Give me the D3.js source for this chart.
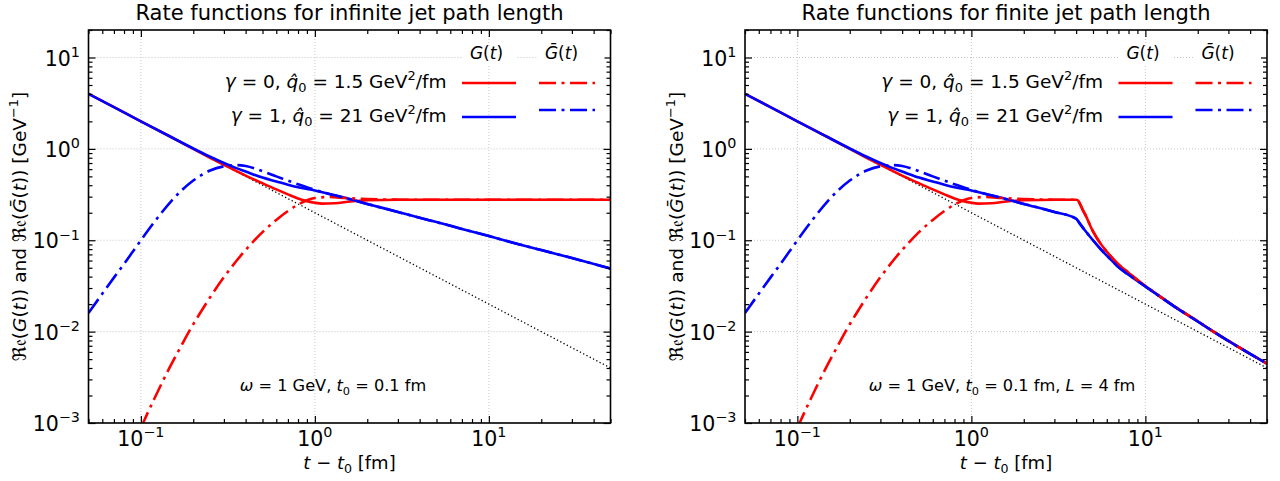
<!DOCTYPE html>
<html><head><meta charset="utf-8">
<script src="https://cdn.jsdelivr.net/npm/d3@7"></script>
<style>body{margin:0;background:#fff} text{font-family:"DejaVu Sans",sans-serif;fill:#000}</style>
</head><body><svg id="c" width="1280" height="481"></svg>
<script>
// ---------- data ----------
// reference power law (dotted)
const tRef = [0.05, 50];
const refVals = [4, 0.004];

// gamma = 0, G(t), infinite path
const tG0 = [0.05,0.07,0.1,0.15,0.2,0.25,0.3,0.4,0.5,0.6,0.7,0.8,0.9,1.0,1.1,1.3,1.6,2,3,4,5,10,20,50];
const G0inf = [4,2.86,2,1.34,1.0,0.80,0.67,0.51,0.42,0.36,0.318,0.287,0.268,0.257,0.252,0.254,0.266,0.274,0.277,0.277,0.277,0.277,0.277,0.277];
// gamma = 1, G(t), infinite path
const tG1 = [0.05,0.07,0.1,0.15,0.2,0.25,0.3,0.35,0.4,0.5,0.6,0.7,0.8,1.0,1.3,1.7,2,3,4,5,7,10,15,20,30,50];
const G1inf = [4,2.86,2,1.34,1.01,0.82,0.70,0.62,0.565,0.485,0.44,0.405,0.38,0.35,0.31,0.272,0.25,0.204,0.176,0.158,0.133,0.111,0.09,0.078,0.064,0.049];
// gamma = 0, Gbar(t), infinite path
const tGb0 = [0.1,0.103,0.12,0.15,0.17,0.19,0.22,0.25,0.3,0.35,0.4,0.5,0.6,0.7,0.8,0.9,1.0,1.2,1.5,2,3,4,5,10,20,50];
const Gb0inf = [0.00088,0.001,0.00188,0.00443,0.0069,0.0102,0.0162,0.0238,0.0394,0.0578,0.0783,0.1227,0.167,0.209,0.246,0.274,0.29,0.297,0.29,0.282,0.278,0.277,0.277,0.277,0.277,0.277];
// gamma = 1, Gbar(t), infinite path
const tGb1 = [0.05,0.06,0.07,0.08,0.1,0.12,0.15,0.2,0.25,0.3,0.35,0.4,0.5,0.6,0.7,0.8,0.9,1.0,1.3,1.7,2,3,4,5,7,10,15,20,30,50];
const Gb1inf = [0.016,0.026,0.039,0.055,0.1,0.16,0.27,0.45,0.58,0.645,0.665,0.65,0.57,0.5,0.45,0.41,0.38,0.356,0.31,0.272,0.25,0.204,0.176,0.158,0.133,0.111,0.09,0.078,0.064,0.049];

// finite path (L = 4 fm): curves after the jet leaves the medium
const tTail0 = [4.0,4.08,4.2,4.35,4.5,5,5.5,6,6.5,7,8,9,10,12,15,20,25,30,40,50];
const G0tail = [0.277,0.275,0.252,0.218,0.193,0.125,0.093,0.075,0.063,0.0545,0.0442,0.0368,0.0316,0.0247,0.0184,0.013,0.0098,0.0079,0.0057,0.00446];
const tTail1 = [4.0,4.2,4.5,5,5.5,6,6.5,7,8,9,10,12,15,20,25,30,40,50];
const G1tail = [0.172,0.152,0.128,0.1,0.081,0.068,0.0585,0.0508,0.042,0.0358,0.0312,0.0245,0.0183,0.0129,0.0098,0.0079,0.0057,0.00446];
const pathLength = 4;

// ticks
const xMajor = [0.1, 1, 10];
const xMajorExp = ["\u22121", "0", "1"];
const yMajor = [1e-3, 1e-2, 1e-1, 1, 10];
const yMajorExp = ["\u22123", "\u22122", "\u22121", "0", "1"];
const xDomain = [0.05, 50];
const yDomain = [1e-3, 20];

const titles = ["Rate functions for infinite jet path length", "Rate functions for finite jet path length"];

// ---------- helpers ----------
const zip = (xs, ys) => xs.map((v, i) => [v, ys[i]]);
function finite(xs, ys, txs, tys) {
  const head = zip(xs, ys).filter(d => d[0] < pathLength);
  return head.concat(zip(txs, tys));
}
function rich(sel, parts, size) {
  let cur = 0;
  parts.forEach(p => {
    const ts = sel.append("tspan").text(p.t);
    let want = 0;
    if (p.i) ts.attr("font-style", "italic");
    if (p.sup) { want = -0.42 * size; ts.attr("font-size", size * 0.7); }
    if (p.sub) { want = 0.22 * size; ts.attr("font-size", size * 0.7); }
    if (want !== cur) ts.attr("dy", want - cur);
    cur = want;
  });
  return sel;
}
function minorTicks(lo, hi) {
  const out = [];
  for (let e = -4; e <= 2; e++) for (let m = 2; m <= 9; m++) {
    const v = m * Math.pow(10, e);
    if (v >= lo * 0.999 && v <= hi * 1.001) out.push(v);
  }
  return out;
}

const svg = d3.select("#c");
const T = 30, B = 423;
const panelDefs = [
  { L: 88.5, R: 610.5, fin: false, noteX: 333,
    note: [{t:"\u03c9",i:1},{t:" = 1 GeV, "},{t:"t",i:1},{t:"0",sub:1},{t:" = 0.1 fm"}] },
  { L: 745, R: 1267, fin: true, noteX: 1002,
    note: [{t:"\u03c9",i:1},{t:" = 1 GeV, "},{t:"t",i:1},{t:"0",sub:1},{t:" = 0.1 fm, "},{t:"L",i:1},{t:" = 4 fm"}] }
];

const red = "#ff0000", blue = "#0000ff";
const dashDot = "17,5.5,3,5.5";
const FT = 21, FK = 20.5, FL = 18.5, FA = 18, FN = 16.2;

panelDefs.forEach((P, k) => {
  const x = d3.scaleLog().domain(xDomain).range([P.L, P.R]);
  const y = d3.scaleLog().domain(yDomain).range([B, T]);
  const g = svg.append("g");
  const cid = "clip" + k;
  g.append("clipPath").attr("id", cid).append("rect")
    .attr("x", P.L).attr("y", T).attr("width", P.R - P.L).attr("height", B - T);

  // grid
  const grid = g.append("g").attr("stroke", "#b8b8b8").attr("stroke-width", 0.8).attr("stroke-dasharray", "1,2");
  xMajor.forEach(v => grid.append("line").attr("x1", x(v)).attr("x2", x(v)).attr("y1", T).attr("y2", B));
  yMajor.forEach(v => grid.append("line").attr("x1", P.L).attr("x2", P.R).attr("y1", y(v)).attr("y2", y(v)));

  const line = d3.line().x(d => x(d[0])).y(d => y(d[1])).curve(d3.curveMonotoneX);
  const plot = g.append("g").attr("clip-path", `url(#${cid})`).attr("fill", "none");

  const series = P.fin ? [
    finite(tG0, G0inf, tTail0, G0tail), finite(tG1, G1inf, tTail1, G1tail),
    finite(tGb0, Gb0inf, tTail0, G0tail), finite(tGb1, Gb1inf, tTail1, G1tail)
  ] : [zip(tG0, G0inf), zip(tG1, G1inf), zip(tGb0, Gb0inf), zip(tGb1, Gb1inf)];

  plot.append("path").attr("d", line(zip(tRef, refVals))).attr("stroke", "#000")
    .attr("stroke-width", 1.3).attr("stroke-dasharray", "1.3,2.4");
  plot.append("path").attr("d", line(series[0])).attr("stroke", red).attr("stroke-width", 2.6);
  plot.append("path").attr("d", line(series[1])).attr("stroke", blue).attr("stroke-width", 2.6);
  plot.append("path").attr("d", line(series[2])).attr("stroke", red).attr("stroke-width", 2.6).attr("stroke-dasharray", dashDot);
  plot.append("path").attr("d", line(series[3])).attr("stroke", blue).attr("stroke-width", 2.6).attr("stroke-dasharray", dashDot);

  // axes with inward ticks on all sides
  const xMinor = minorTicks(xDomain[0], xDomain[1]);
  const yMinor = minorTicks(yDomain[0], yDomain[1]);
  const mk = (axis, vals, size) => axis.tickValues(vals).tickSize(-size).tickSizeOuter(0).tickFormat("");
  const noDom = s => s.select(".domain").remove();
  g.append("g").attr("transform", `translate(0,${B})`).call(mk(d3.axisBottom(x), xMajor, 7)).call(noDom);
  g.append("g").attr("transform", `translate(0,${T})`).call(mk(d3.axisTop(x), xMajor, 7)).call(noDom);
  g.append("g").attr("transform", `translate(0,${B})`).call(mk(d3.axisBottom(x), xMinor, 4)).call(noDom);
  g.append("g").attr("transform", `translate(0,${T})`).call(mk(d3.axisTop(x), xMinor, 4)).call(noDom);
  g.append("g").attr("transform", `translate(${P.L},0)`).call(mk(d3.axisLeft(y), yMajor, 7)).call(noDom);
  g.append("g").attr("transform", `translate(${P.R},0)`).call(mk(d3.axisRight(y), yMajor, 7)).call(noDom);
  g.append("g").attr("transform", `translate(${P.L},0)`).call(mk(d3.axisLeft(y), yMinor, 4)).call(noDom);
  g.append("g").attr("transform", `translate(${P.R},0)`).call(mk(d3.axisRight(y), yMinor, 4)).call(noDom);
  g.selectAll(".tick line").attr("stroke", "#000").attr("stroke-width", 1.2);

  g.append("rect").attr("x", P.L).attr("y", T).attr("width", P.R - P.L).attr("height", B - T)
    .attr("fill", "none").attr("stroke", "#000").attr("stroke-width", 1.6);

  // tick labels
  xMajor.forEach((v, i) => {
    rich(g.append("text").attr("x", x(v)).attr("y", 446).attr("text-anchor", "middle").attr("font-size", FK),
      [{t:"10"},{t:xMajorExp[i],sup:1}], FK);
  });
  yMajor.forEach((v, i) => {
    rich(g.append("text").attr("x", P.L - 8.5).attr("y", y(v) + 8).attr("text-anchor", "end").attr("font-size", FK),
      [{t:"10"},{t:yMajorExp[i],sup:1}], FK);
  });

  // title and axis labels
  g.append("text").attr("x", (P.L + P.R) / 2).attr("y", 20).attr("text-anchor", "middle").attr("font-size", FT).text(titles[k]);
  rich(g.append("text").attr("x", (P.L + P.R) / 2).attr("y", 469).attr("text-anchor", "middle").attr("font-size", FA),
    [{t:"t",i:1},{t:" \u2212 "},{t:"t",i:1},{t:"0",sub:1},{t:" [fm]"}], FA);
  rich(g.append("text").attr("transform", `translate(${P.L - 62.5},${(T + B) / 2}) rotate(-90)`).attr("text-anchor", "middle").attr("font-size", 18.5),
    [{t:"\u211c\ud835\udd22"},{t:"("},{t:"G",i:1},{t:"("},{t:"t",i:1},{t:")) and "},{t:"\u211c\ud835\udd22"},{t:"("},{t:"\u1e20",i:1},{t:"("},{t:"t",i:1},{t:")) [GeV"},{t:"\u22121",sup:1},{t:"]"}], 18.5);

  // annotation
  rich(g.append("text").attr("x", P.noteX).attr("y", 391).attr("text-anchor", "middle").attr("font-size", FN), P.note, FN);

  // legend
  const R = P.R;
  g.append("rect").attr("x", R - 148).attr("y", 46).attr("width", 54).attr("height", 20).attr("fill", "#fff");
  g.append("rect").attr("x", R - 74).attr("y", 46).attr("width", 68).attr("height", 20).attr("fill", "#fff");
  rich(g.append("text").attr("x", R - 124).attr("y", 59).attr("text-anchor", "middle").attr("font-size", 17),
    [{t:"G",i:1},{t:"("},{t:"t",i:1},{t:")"}], 17);
  rich(g.append("text").attr("x", R - 49).attr("y", 59).attr("text-anchor", "middle").attr("font-size", 17),
    [{t:"\u1e20",i:1},{t:"("},{t:"t",i:1},{t:")"}], 17);
  rich(g.append("text").attr("x", R - 164).attr("y", 88).attr("text-anchor", "end").attr("font-size", FL),
    [{t:"\u03b3",i:1},{t:" = 0, "},{t:"q\u0302",i:1},{t:"0",sub:1},{t:" = 1.5 GeV"},{t:"2",sup:1},{t:"/fm"}], FL);
  rich(g.append("text").attr("x", R - 164).attr("y", 121.5).attr("text-anchor", "end").attr("font-size", FL),
    [{t:"\u03b3",i:1},{t:" = 1, "},{t:"q\u0302",i:1},{t:"0",sub:1},{t:" = 21 GeV"},{t:"2",sup:1},{t:"/fm"}], FL);
  const lg = g.append("g").attr("stroke-width", 2.6);
  lg.append("line").attr("x1", R - 148.5).attr("x2", R - 94.5).attr("y1", 83).attr("y2", 83).attr("stroke", red);
  lg.append("line").attr("x1", R - 71.5).attr("x2", R - 15.5).attr("y1", 83).attr("y2", 83).attr("stroke", red).attr("stroke-dasharray", dashDot);
  lg.append("line").attr("x1", R - 148.5).attr("x2", R - 94.5).attr("y1", 117).attr("y2", 117).attr("stroke", blue);
  lg.append("line").attr("x1", R - 71.5).attr("x2", R - 15.5).attr("y1", 110).attr("y2", 110).attr("stroke", blue).attr("stroke-dasharray", dashDot);
});
</script></body></html>
